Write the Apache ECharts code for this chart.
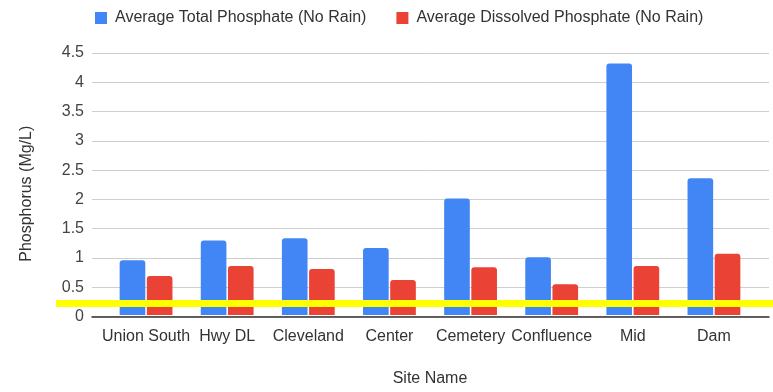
<!DOCTYPE html>
<html>
<head>
<meta charset="utf-8">
<script src="https://cdn.jsdelivr.net/npm/echarts@6/dist/echarts.min.js"></script>
<style>
  html, body { margin: 0; padding: 0; background: #fff; }
  #chart { width: 773px; height: 392px; }
</style>
</head>
<body>
<div id="chart"></div>
<script>
// Site names along the creek
const sites = ['Union South', 'Hwy DL', 'Cleveland', 'Center', 'Cemetery', 'Confluence', 'Mid', 'Dam'];
// Average phosphate concentrations (mg/L), dry-weather sampling
const totalPhosphate = [0.94, 1.28, 1.32, 1.15, 2.00, 0.99, 4.32, 2.35];
const dissolvedPhosphate = [0.67, 0.84, 0.79, 0.60, 0.82, 0.53, 0.84, 1.05];
// Reference threshold level drawn across the chart
const thresholdLevel = 0.2;
// Y axis range
const yMin = 0, yMax = 4.5, yStep = 0.5;

const FONT = '"Liberation Sans", Arial, sans-serif';
const chart = echarts.init(document.getElementById('chart'), null, { renderer: 'canvas' });

chart.setOption({
  backgroundColor: '#ffffff',
  textStyle: { fontFamily: FONT },
  legend: {
    top: 5,
    left: 90,
    itemWidth: 12,
    itemHeight: 12,
    itemGap: 30,
    icon: 'rect',
    textStyle: { fontFamily: FONT, fontSize: 16, color: '#333', padding: [0, 0, 0, 3] },
    data: ['Average Total Phosphate (No Rain)', 'Average Dissolved Phosphate (No Rain)']
  },
  grid: [
    // frame carrying gridlines, y labels and baseline
    { left: 92, right: 4, top: 53, bottom: 75.5 },
    // plotting band for the bars
    { left: 105.5, right: 18.5, top: 53, bottom: 75.5 }
  ],
  xAxis: [
    {
      gridIndex: 0, type: 'value', min: 0, max: 1,
      axisLabel: { show: false }, axisTick: { show: false },
      splitLine: { show: false },
      axisLine: { show: true, onZero: false, lineStyle: { color: '#333', width: 1.5 } }
    },
    {
      gridIndex: 1, type: 'category', data: sites,
      axisLine: { show: false }, axisTick: { show: false },
      axisLabel: { fontFamily: FONT, fontSize: 16, color: '#333', margin: 14, interval: 0 },
      name: 'Site Name', nameLocation: 'middle', nameGap: 56,
      nameTextStyle: { fontFamily: FONT, fontSize: 16, color: '#333' }
    }
  ],
  yAxis: [
    {
      gridIndex: 0, type: 'value', min: yMin, max: yMax, interval: yStep,
      axisLine: { show: false }, axisTick: { show: false },
      axisLabel: { fontFamily: FONT, fontSize: 16, color: '#444', margin: 8 },
      splitLine: { show: true, lineStyle: { color: '#cfcfcf', width: 1 } },
      name: 'Phosphorus (Mg/L)', nameLocation: 'middle', nameGap: 57,
      nameTextStyle: { fontFamily: FONT, fontSize: 16, color: '#333', padding: [0, 18, 0, 0] }
    },
    {
      gridIndex: 1, type: 'value', min: yMin, max: yMax, interval: yStep,
      show: false, splitLine: { show: false }
    }
  ],
  series: [
    {
      name: 'Average Total Phosphate (No Rain)',
      type: 'bar',
      xAxisIndex: 1, yAxisIndex: 1,
      data: totalPhosphate,
      barWidth: '31.6%',
      barGap: '6%',
      itemStyle: { color: '#4285f4', borderRadius: [3, 3, 0, 0] },
      markLine: {
        silent: true,
        symbol: ['none', 'none'],
        z: 10,
        label: { show: false },
        lineStyle: { color: '#ffff00', width: 7, type: 'solid' },
        data: [[{ x: 56, yAxis: thresholdLevel }, { x: '100%', yAxis: thresholdLevel }]]
      }
    },
    {
      name: 'Average Dissolved Phosphate (No Rain)',
      type: 'bar',
      xAxisIndex: 1, yAxisIndex: 1,
      data: dissolvedPhosphate,
      barWidth: '31.6%',
      barGap: '6%',
      itemStyle: { color: '#ea4335', borderRadius: [3, 3, 0, 0] }
    }
  ]
});
</script>
</body>
</html>
